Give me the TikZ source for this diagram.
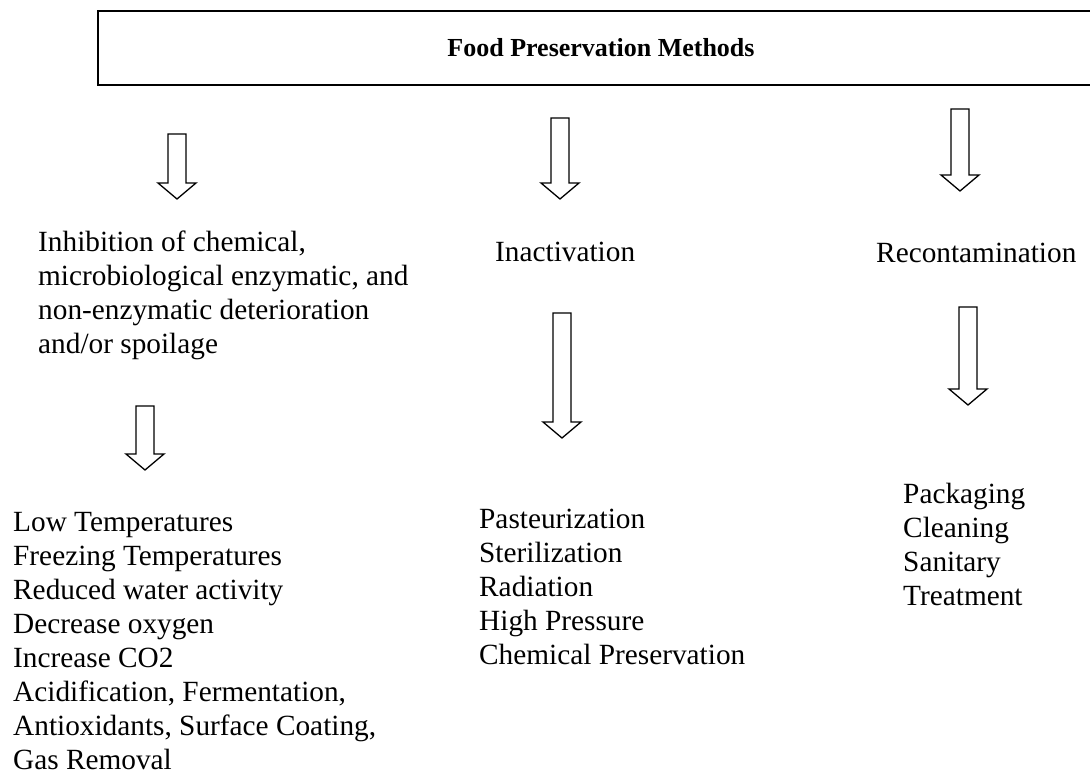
\documentclass[tikz,border=0pt]{standalone}
\usepackage{fontspec}
\setmainfont{Liberation Serif}
\usetikzlibrary{calc,positioning}
\newcommand{\blockarrow}[2]{\draw[hollowarrow] ($(#1)+(-9,0)$)--($(#2)+(-9,-16)$)--($(#2)+(-19,-16)$)--(#2)--($(#2)+(19,-16)$)--($(#2)+(9,-16)$)--($(#1)+(9,0)$)--cycle;}

\begin{document}
\begin{tikzpicture}[x=1pt,y=-1pt,body/.style={font=\fontsize{29.3}{34}\selectfont,align=left,inner sep=0pt,anchor=north west},titlebox/.style={draw,line width=1.5pt,minimum width=1006pt,minimum height=74pt,inner sep=0pt,font=\fontsize{26}{31}\selectfont\bfseries},hollowarrow/.style={draw,line width=1.3pt,fill=white,line join=miter}]
\useasboundingbox (0,0) rectangle (1090,775);
\clip (0,0) rectangle (1090,775);
\node[titlebox] (methods) at (601,48) {Food Preservation Methods};
\node[body] (inhibit) at (38,228) {\strut Inhibition of chemical,\\microbiological enzymatic, and\\non-enzymatic deterioration\\and/or spoilage};
\node[body] (inact) at (495,238) {\strut Inactivation};
\node[body] (recont) at (876,239) {\strut Recontamination};
\node[body] (lowtemp) at (13,507) {\strut Low Temperatures\\Freezing Temperatures\\Reduced water activity\\Decrease oxygen\\Increase CO2\\Acidification, Fermentation,\\Antioxidants, Surface Coating,\\Gas Removal};
\node[body] (pasteur) at (479,504) {\strut Pasteurization\\Sterilization\\Radiation\\High Pressure\\Chemical Preservation};
\node[body] (packing) at (903,479) {\strut Packaging\\Cleaning\\Sanitary\\Treatment};
% arrow ends
\coordinate (inhibtop) at (177,134);\coordinate (inhibtip) at (177,199);
\coordinate (inacttop) at (560,118);\coordinate (inacttip) at (560,199);
\coordinate (recontop) at (960,109);\coordinate (recontip) at (960,191);
\coordinate (lowtop) at (145,406);\coordinate (lowtip) at (145,470);
\coordinate (pasttop) at (562,313);\coordinate (pasttip) at (562,438);
\coordinate (packtop) at (968,307);\coordinate (packtip) at (968,405);
\blockarrow{inhibtop}{inhibtip}
\blockarrow{inacttop}{inacttip}
\blockarrow{recontop}{recontip}
\blockarrow{lowtop}{lowtip}
\blockarrow{pasttop}{pasttip}
\blockarrow{packtop}{packtip}
\end{tikzpicture}
\end{document}
